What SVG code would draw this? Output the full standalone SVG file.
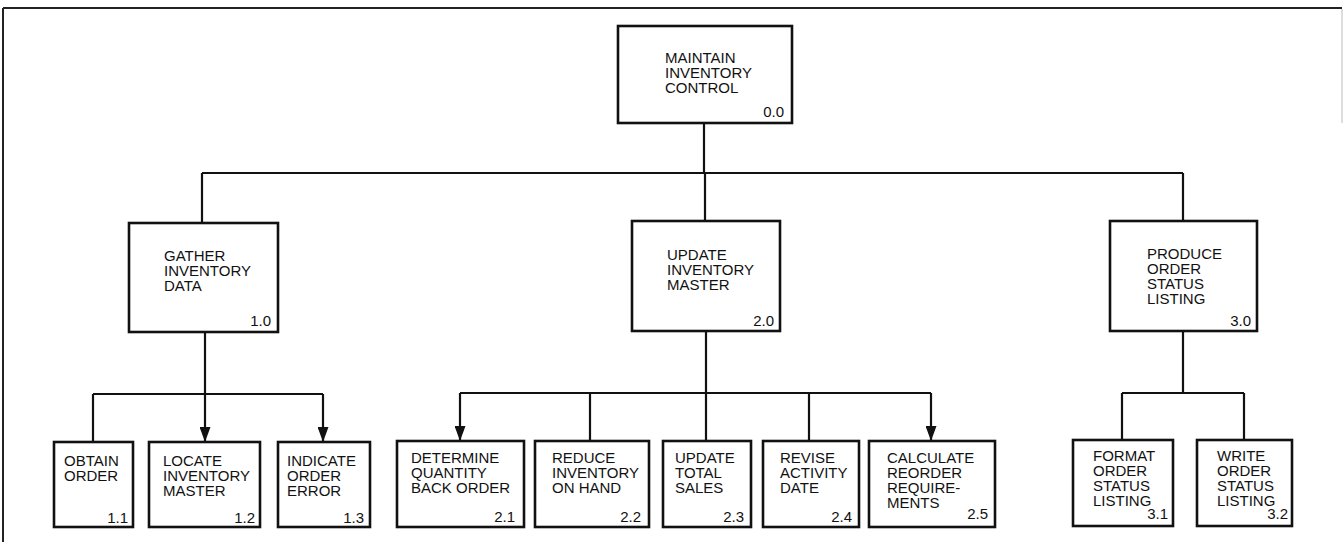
<svg xmlns="http://www.w3.org/2000/svg" width="1343" height="542" viewBox="0 0 1343 542">
<style>
.box{fill:#fff;stroke:#111;stroke-width:2.6}
.t{font-family:"Liberation Sans",Arial,sans-serif;font-size:15px;fill:#111}
.n{font-family:"Liberation Sans",Arial,sans-serif;font-size:15px;fill:#111;text-anchor:end}
.c{fill:none;stroke:#111;stroke-width:2.2}
.frame{fill:none;stroke:#222;stroke-width:2}
</style>
<defs>
<marker id="arr" markerUnits="userSpaceOnUse" markerWidth="15" markerHeight="11" viewBox="0 0 15 11" refX="15" refY="5.5" orient="auto">
<path d="M0,0 L15,5.5 L0,11 z" fill="#111"/>
</marker>
</defs>
<rect width="1343" height="542" fill="#fff"/>
<g id="frame">
<line class="frame" x1="3" y1="8" x2="1342" y2="8"/>
<line class="frame" x1="3" y1="8" x2="3" y2="542" stroke="#444"/>
<line x1="1342" y1="9" x2="1342" y2="123" stroke="#bbb" stroke-width="1"/>
</g>
<g id="connectors">
<path class="c" d="M704,123 V173 M202,173 H1183 M202,173 V223 M705,173 V221 M1183,173 V221"/>
<path class="c" d="M93,394 H323 M93,394 V442"/>
<path class="c" d="M205,332 V442" marker-end="url(#arr)"/>
<path class="c" d="M323,394 V442" marker-end="url(#arr)"/>
<path class="c" d="M460,393 H931 M590,393 V441 M706,331 V441 M809,393 V441"/>
<path class="c" d="M460,393 V441" marker-end="url(#arr)"/>
<path class="c" d="M931,393 V441" marker-end="url(#arr)"/>
<path class="c" d="M1183,331 V393 M1122,393 H1244 M1122,393 V440 M1244,393 V440"/>
</g>
<g id="n0_0">
<rect class="box" x="618" y="26" width="174" height="97"/>
<text class="t" x="665" y="63">MAINTAIN</text>
<text class="t" x="665" y="78">INVENTORY</text>
<text class="t" x="665" y="93">CONTROL</text>
<text class="n" x="784" y="117">0.0</text>
</g>
<g id="n1_0">
<rect class="box" x="129" y="223" width="149" height="109"/>
<text class="t" x="164" y="261">GATHER</text>
<text class="t" x="164" y="276">INVENTORY</text>
<text class="t" x="164" y="291">DATA</text>
<text class="n" x="271" y="326">1.0</text>
</g>
<g id="n2_0">
<rect class="box" x="632" y="221" width="148" height="110"/>
<text class="t" x="667" y="260">UPDATE</text>
<text class="t" x="667" y="275">INVENTORY</text>
<text class="t" x="667" y="290">MASTER</text>
<text class="n" x="774" y="326">2.0</text>
</g>
<g id="n3_0">
<rect class="box" x="1110" y="221" width="147" height="110"/>
<text class="t" x="1147" y="259">PRODUCE</text>
<text class="t" x="1147" y="274">ORDER</text>
<text class="t" x="1147" y="289">STATUS</text>
<text class="t" x="1147" y="304">LISTING</text>
<text class="n" x="1251" y="326">3.0</text>
</g>
<g id="n1_1">
<rect class="box" x="54" y="442" width="79" height="85"/>
<text class="t" x="64" y="466">OBTAIN</text>
<text class="t" x="64" y="481">ORDER</text>
<text class="n" x="128" y="523">1.1</text>
</g>
<g id="n1_2">
<rect class="box" x="149" y="442" width="111" height="85"/>
<text class="t" x="163" y="466">LOCATE</text>
<text class="t" x="163" y="481">INVENTORY</text>
<text class="t" x="163" y="496">MASTER</text>
<text class="n" x="255" y="523">1.2</text>
</g>
<g id="n1_3">
<rect class="box" x="278" y="442" width="92" height="85"/>
<text class="t" x="287" y="466">INDICATE</text>
<text class="t" x="287" y="481">ORDER</text>
<text class="t" x="287" y="496">ERROR</text>
<text class="n" x="364" y="523">1.3</text>
</g>
<g id="n2_1">
<rect class="box" x="397" y="441" width="127" height="86"/>
<text class="t" x="411" y="463">DETERMINE</text>
<text class="t" x="411" y="478">QUANTITY</text>
<text class="t" x="411" y="493">BACK ORDER</text>
<text class="n" x="515" y="522">2.1</text>
</g>
<g id="n2_2">
<rect class="box" x="535" y="441" width="114" height="86"/>
<text class="t" x="552" y="463">REDUCE</text>
<text class="t" x="552" y="478">INVENTORY</text>
<text class="t" x="552" y="493">ON HAND</text>
<text class="n" x="641" y="522">2.2</text>
</g>
<g id="n2_3">
<rect class="box" x="663" y="441" width="88" height="86"/>
<text class="t" x="675" y="463">UPDATE</text>
<text class="t" x="675" y="478">TOTAL</text>
<text class="t" x="675" y="493">SALES</text>
<text class="n" x="744" y="522">2.3</text>
</g>
<g id="n2_4">
<rect class="box" x="763" y="441" width="96" height="86"/>
<text class="t" x="780" y="463">REVISE</text>
<text class="t" x="780" y="478">ACTIVITY</text>
<text class="t" x="780" y="493">DATE</text>
<text class="n" x="852" y="522">2.4</text>
</g>
<g id="n2_5">
<rect class="box" x="869" y="441" width="126" height="86"/>
<text class="t" x="887" y="463">CALCULATE</text>
<text class="t" x="887" y="478">REORDER</text>
<text class="t" x="887" y="493">REQUIRE-</text>
<text class="t" x="887" y="508">MENTS</text>
<text class="n" x="988" y="519">2.5</text>
</g>
<g id="n3_1">
<rect class="box" x="1073" y="440" width="100" height="86"/>
<text class="t" x="1093" y="461">FORMAT</text>
<text class="t" x="1093" y="476">ORDER</text>
<text class="t" x="1093" y="491">STATUS</text>
<text class="t" x="1093" y="506">LISTING</text>
<text class="n" x="1168" y="519">3.1</text>
</g>
<g id="n3_2">
<rect class="box" x="1197" y="440" width="95" height="86"/>
<text class="t" x="1217" y="461">WRITE</text>
<text class="t" x="1217" y="476">ORDER</text>
<text class="t" x="1217" y="491">STATUS</text>
<text class="t" x="1217" y="506">LISTING</text>
<text class="n" x="1288" y="519">3.2</text>
</g>
</svg>
